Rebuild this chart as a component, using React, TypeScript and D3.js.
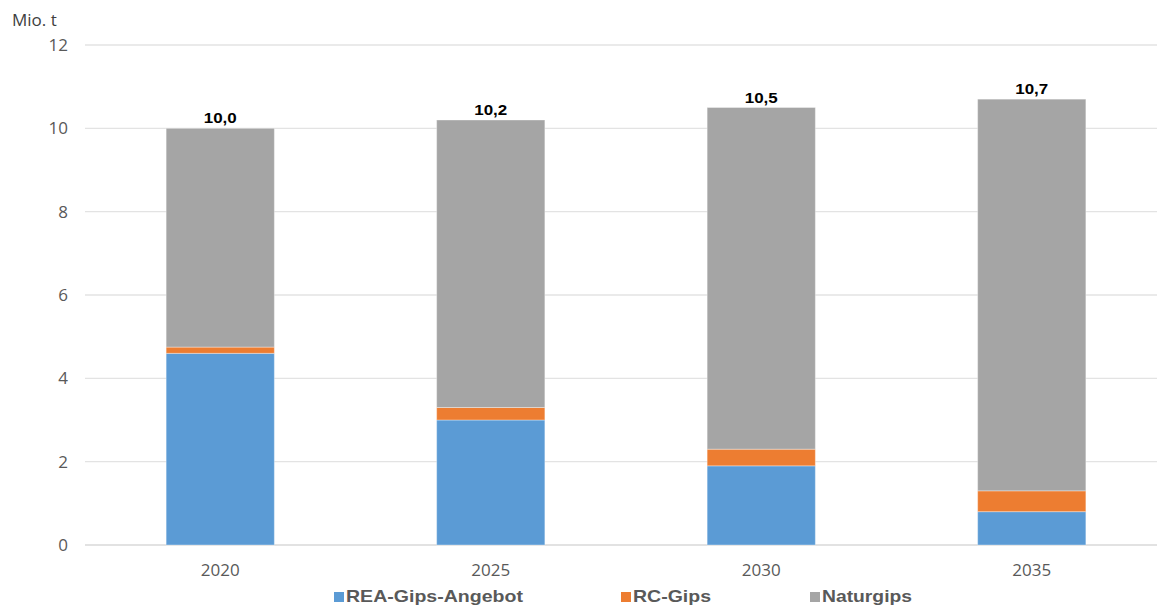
import React from "react";
import * as d3 from "d3";

const years = ["2020", "2025", "2030", "2035"];
const reaGips = [4.6, 3.0, 1.9, 0.8];
const rcGips = [0.15, 0.3, 0.4, 0.5];
const naturGips = [5.25, 6.9, 8.2, 9.4];
const totalLabels = ["10,0", "10,2", "10,5", "10,7"];
const yTicks = [0, 2, 4, 6, 8, 10, 12];
const seriesNames = ["REA-Gips-Angebot", "RC-Gips", "Naturgips"];
const colors = ["#5B9BD5", "#ED7D31", "#A5A5A5"];

export default function App() {
  const W = 1157, H = 607;
  const x = d3.scaleBand<string>().domain(years).range([85, 1167]).paddingInner(0.6).paddingOuter(0.3);
  const y = d3.scaleLinear().domain([0, 12]).range([545, 45]);
  const rows = years.map((yr, i) => ({ year: yr, rea: reaGips[i], rc: rcGips[i], natur: naturGips[i] }));
  const stack = d3.stack<any>().keys(["rea", "rc", "natur"])(rows);
  const font = "'Open Sans', 'Liberation Sans', Arial, sans-serif";
  const boldFont = "'Liberation Sans', Arial, sans-serif";
  const legendX = [334, 621, 810];
  const legendLen = [177, 78, 90];
  return (
    <svg width={W} height={H} style={{ position: "absolute", left: 0, top: 0, background: "#fff" }} fontFamily={font}>
      <rect x={0} y={0} width={W} height={H} fill="#fff" />
      {yTicks.map((t) => (
        <g key={t}>
          <line x1={85} x2={1157} y1={y(t)} y2={y(t)} stroke={t === 0 ? "#d9d9d9" : "#e3e3e3"} strokeWidth={1.3} />
          <text x={68} y={y(t)} dy="0.36em" textAnchor="end" fontSize={17} fill="#595959">{t}</text>
        </g>
      ))}
      <text x={12} y={26} fontSize={17} fill="#404040">Mio. t</text>
      {stack.map((s, si) =>
        s.map((d, i) => (
          <rect key={si + "-" + i} x={x(years[i])} width={x.bandwidth()} y={y(d[1])} height={y(d[0]) - y(d[1])}
            fill={colors[si]} stroke="#ffffff" strokeOpacity={0.35} strokeWidth={1} />
        ))
      )}
      {years.map((yr, i) => (
        <text key={yr} x={(x(yr) as number) + x.bandwidth() / 2} y={y(reaGips[i] + rcGips[i] + naturGips[i]) - 5}
          textAnchor="middle" fontSize={15} fontWeight="bold" fill="#000" fontFamily={boldFont}
          textLength={33} lengthAdjust="spacingAndGlyphs">{totalLabels[i]}</text>
      ))}
      {years.map((yr) => (
        <text key={"xl" + yr} x={(x(yr) as number) + x.bandwidth() / 2} y={576} textAnchor="middle" fontSize={17} fill="#595959">{yr}</text>
      ))}
      {seriesNames.map((n, i) => (
        <g key={n}>
          <rect x={legendX[i]} y={592} width={10} height={10} fill={colors[i]} />
          <text x={legendX[i] + 12} y={602} fontSize={17} fontWeight="bold" fill="#595959" fontFamily={boldFont}
            textLength={legendLen[i]} lengthAdjust="spacingAndGlyphs">{n}</text>
        </g>
      ))}
    </svg>
  );
}
